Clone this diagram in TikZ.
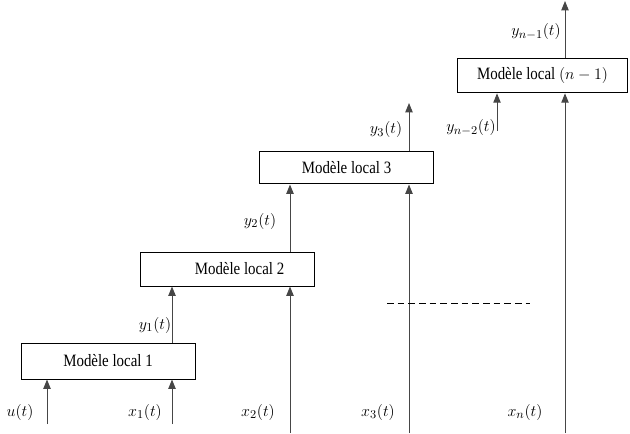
\documentclass[tikz,border=0pt]{standalone}
\usepackage{fontspec}
\setmainfont[FakeStretch=0.86]{Liberation Serif}
\usetikzlibrary{arrows.meta}

\definecolor{trait}{RGB}{70,70,70}
\tikzset{every picture/.style={line width=0.75pt}}
\tikzset{
  modele/.style={draw=black, rectangle, inner sep=0.75pt, font=\fontsize{13}{15}\selectfont},
  fleche/.style={draw=trait, -{Triangle[length=7pt,width=5.5pt]}},
  etiq/.style={inner sep=0.75pt, font=\fontsize{12.5}{15}\selectfont}
}

\begin{document}
\begin{tikzpicture}[x=0.75pt,y=0.75pt,yscale=-1,xscale=1]
\useasboundingbox (0,0) rectangle (630,434);

%Modeles locaux
\node [modele, minimum width=130.5pt, minimum height=27pt] (m1) at (108,361) {Modèle local 1};
\node [modele, minimum width=131pt, minimum height=25.5pt] (m2) at (227.5,269) {\hspace*{18pt}Modèle local 2};
\node [modele, minimum width=131pt, minimum height=24pt] (m3) at (346.5,168) {Modèle local 3};
\node [modele, minimum width=128pt, minimum height=26pt] (mn) at (542.5,75.5) {Modèle local $(n-1)$};

%Entrees
\coordinate (u) at (47,424);
\coordinate (x1) at (172,424);
\coordinate (x2) at (290,433);
\coordinate (x3) at (409,433);
\coordinate (xn) at (565,433);
\coordinate (yn2) at (497,131);
%Sorties libres
\coordinate (y3) at (409,103);
\coordinate (yn1) at (565,1);
%Pointilles
\coordinate (p1) at (387,303);
\coordinate (p2) at (530,303);

\draw [fleche] (u) -- (u |- m1.south);
\draw [fleche] (x1) -- (x1 |- m1.south);
\draw [fleche] (x1 |- m1.north) -- (x1 |- m2.south);
\draw [fleche] (x2) -- (x2 |- m2.south);
\draw [fleche] (x2 |- m2.north) -- (x2 |- m3.south);
\draw [fleche] (x3) -- (x3 |- m3.south);
\draw [fleche] (x3 |- m3.north) -- (y3);
\draw [fleche] (yn2) -- (yn2 |- mn.south);
\draw [fleche] (xn) -- (xn |- mn.south);
\draw [fleche] (xn |- mn.north) -- (yn1);
\draw [black, dashed, dash pattern=on 5pt off 3pt] (p1) -- (p2);

% Text Node
\node [etiq] (lu) at (20,412) {$u(t)$};
\node [etiq] (lx1) at (145,412) {$x_{1}(t)$};
\node [etiq] (lx2) at (258,412) {$x_{2}(t)$};
\node [etiq] (lx3) at (378,412) {$x_{3}(t)$};
\node [etiq] (lxn) at (525,412) {$x_{n}(t)$};
\node [etiq] (ly1) at (155,325) {$y_{1}(t)$};
\node [etiq] (ly2) at (260,221) {$y_{2}(t)$};
\node [etiq] (ly3) at (386,130) {$y_{3}(t)$};
\node [etiq] (lyn2) at (471,128) {$y_{n-2}(t)$};
\node [etiq] (lyn1) at (536,32) {$y_{n-1}(t)$};

\end{tikzpicture}
\end{document}
